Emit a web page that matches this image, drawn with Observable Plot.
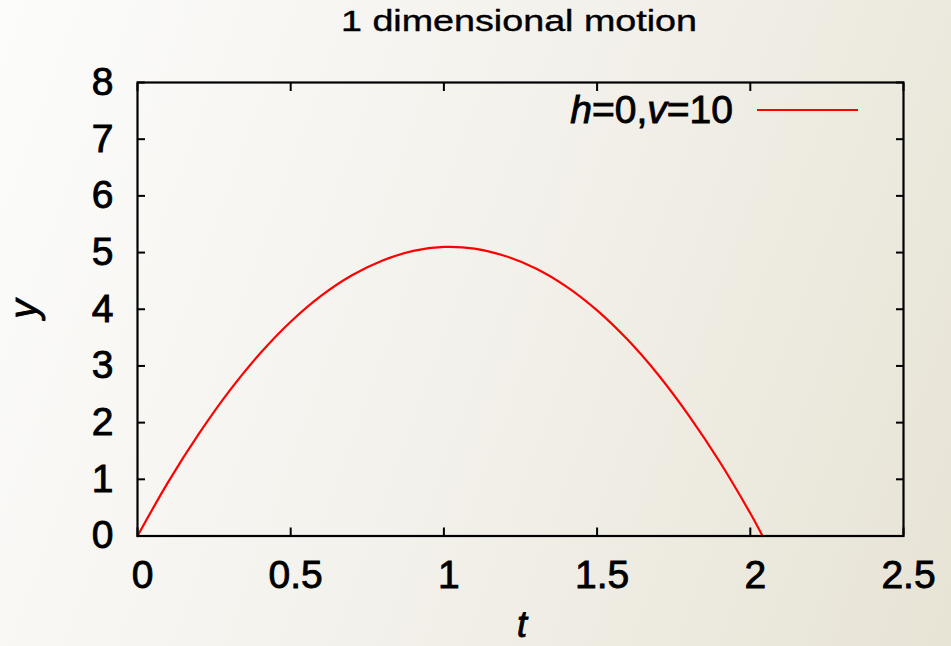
<!DOCTYPE html>
<html><head><meta charset="utf-8">
<script src="https://cdn.jsdelivr.net/npm/d3@7"></script>
<script src="https://cdn.jsdelivr.net/npm/@observablehq/plot@0.6"></script>
<style>
html,body{margin:0;padding:0;width:951px;height:646px;overflow:hidden;}
body{background:linear-gradient(110deg,#fcfcfb 0%,#f3f1eb 50%,#e7e3d5 100%);}
#chart svg{display:block}
#chart g[aria-label$="tick label"] text, #chart .thick { stroke:#000; stroke-width:0.9px; paint-order: stroke; }
#chart .semi { stroke:#000; stroke-width:0.4px; paint-order: stroke; }
</style></head><body><div id="chart"></div>
<script>
const chartTitle = "1 dimensional motion";
const xLabel = "t";
const yLabel = "y";
const seriesName = "h=0,v=10";
const tValues = [0, 0.1, 0.2, 0.3, 0.4, 0.5, 0.6, 0.7, 0.8, 0.9, 1.0, 1.1, 1.2, 1.3, 1.4, 1.5, 1.6, 1.7, 1.8, 1.9, 2.0, 2.04];
const yValues = [0, 0.95, 1.80, 2.56, 3.22, 3.78, 4.24, 4.60, 4.86, 5.03, 5.10, 5.07, 4.94, 4.72, 4.40, 3.98, 3.46, 2.84, 2.12, 1.31, 0.40, 0.0];
const xTicks = [0, 0.5, 1, 1.5, 2, 2.5];
const yTicks = [0, 1, 2, 3, 4, 5, 6, 7, 8];

const data = tValues.map((t, i) => ({t, y: yValues[i]}));
const font = "'Liberation Sans', Arial, sans-serif";
const fmt = d => String(d);

const plot = Plot.plot({
  width: 951, height: 646,
  marginLeft: 137, marginRight: 48, marginTop: 82, marginBottom: 110.5,
  style: {background: "transparent", fontFamily: font, fontSize: "39px", color: "black", overflow: "visible"},
  x: {domain: [0, 2.5]},
  y: {domain: [0, 8]},
  marks: [
    Plot.line(data, {x: "t", y: "y", stroke: "#ff0000", strokeWidth: 2.2, curve: "catmull-rom"}),
    Plot.axisX({ticks: xTicks, tickSize: 0, tickPadding: 24, dx: 5, tickFormat: fmt, label: null, fontSize: 39}),
    Plot.axisX({ticks: xTicks, tickSize: -8, tickFormat: () => "", label: null, strokeWidth: 2}),
    Plot.axisX({anchor: "top", ticks: xTicks, tickSize: -8, tickFormat: () => "", label: null, strokeWidth: 2}),
    Plot.axisY({ticks: yTicks, tickSize: 0, tickPadding: 24, tickFormat: fmt, label: null, fontSize: 39}),
    Plot.axisY({ticks: yTicks, tickSize: -8, tickFormat: () => "", label: null, strokeWidth: 2}),
    Plot.axisY({anchor: "right", ticks: yTicks, tickSize: -8, tickFormat: () => "", label: null, strokeWidth: 2}),
    Plot.frame({stroke: "black", strokeWidth: 2.2})
  ]
});

const svg = d3.select(plot);
svg.append("text")
  .attr("class", "semi")
  .attr("x", 519).attr("y", 31)
  .attr("text-anchor", "middle")
  .attr("font-family", font).attr("font-size", 29)
  .attr("textLength", 356).attr("lengthAdjust", "spacingAndGlyphs")
  .attr("fill", "black")
  .text(chartTitle);
svg.append("text")
  .attr("class", "thick")
  .attr("x", 522).attr("y", 637)
  .attr("text-anchor", "middle")
  .attr("font-family", font).attr("font-size", 36).attr("font-style", "italic")
  .attr("fill", "black")
  .text(xLabel);
svg.append("text")
  .attr("class", "thick")
  .attr("transform", "translate(37,309) rotate(-90)")
  .attr("text-anchor", "middle")
  .attr("font-family", font).attr("font-size", 38).attr("font-style", "italic")
  .attr("fill", "black")
  .text(yLabel);

// legend
const lg = svg.append("text")
  .attr("class", "thick")
  .attr("x", 733).attr("y", 123)
  .attr("text-anchor", "end")
  .attr("font-family", font).attr("font-size", 39)
  .attr("fill", "black");
const parts = seriesName.match(/[a-z]|[^a-z]+/g);
parts.forEach(p => {
  lg.append("tspan").attr("font-style", /^[a-z]$/.test(p) ? "italic" : "normal").text(p);
});
svg.append("line")
  .attr("x1", 757).attr("x2", 858).attr("y1", 110).attr("y2", 110)
  .attr("stroke", "#ff0000").attr("stroke-width", 2);

document.getElementById("chart").appendChild(plot);
</script></body></html>
